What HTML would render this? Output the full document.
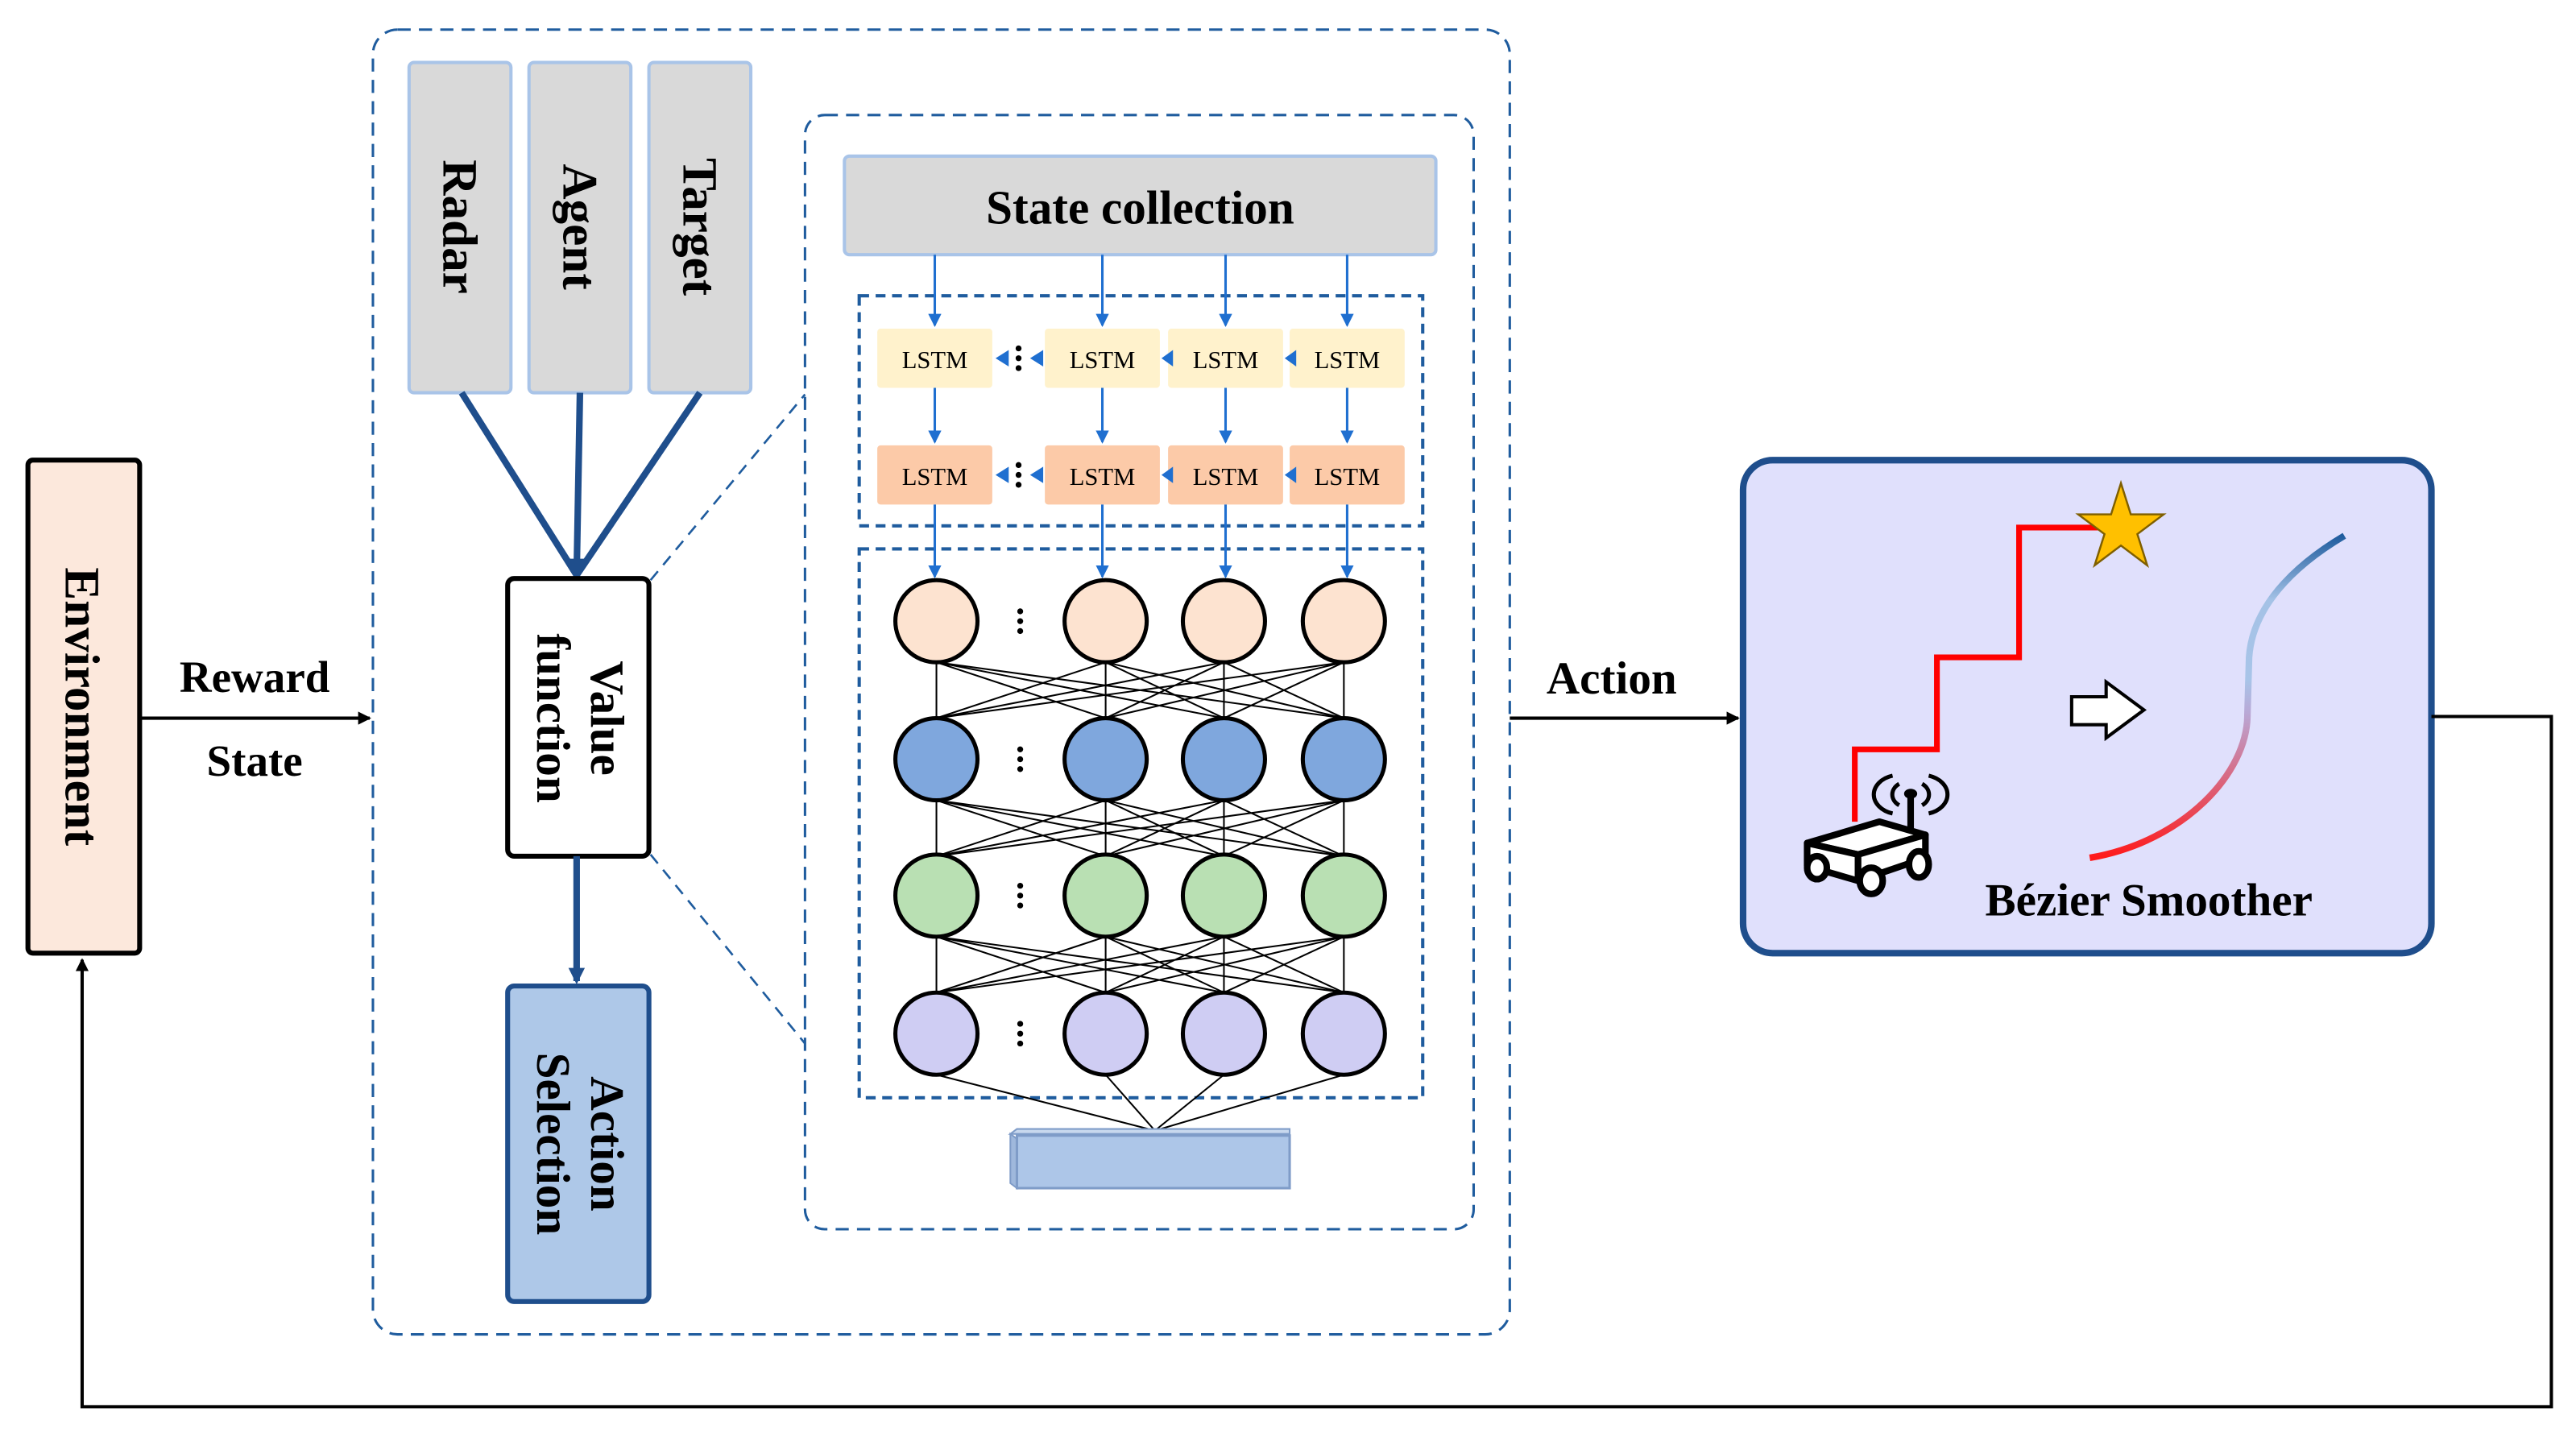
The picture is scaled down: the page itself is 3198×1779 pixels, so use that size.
<!DOCTYPE html>
<html><head><meta charset="utf-8"><style>
html,body{margin:0;padding:0;background:#fff;}
svg{display:block;}
text{font-family:"Liberation Serif",serif;font-weight:bold;fill:#000;}
</style></head><body>
<svg width="3198" height="1779" viewBox="0 0 1568 872" preserveAspectRatio="none" xmlns="http://www.w3.org/2000/svg">
<defs>
<marker id="ab" markerWidth="8" markerHeight="8" refX="7" refY="4" orient="auto" markerUnits="userSpaceOnUse"><path d="M0,0 L8,4 L0,8 z" fill="#000"/></marker>
<marker id="abl" markerWidth="10" markerHeight="10" refX="8" refY="5" orient="auto" markerUnits="userSpaceOnUse"><path d="M0,0 L10,5 L0,10 z" fill="#1f4e8c"/></marker>
<marker id="al" markerWidth="8" markerHeight="8" refX="7" refY="4" orient="auto" markerUnits="userSpaceOnUse"><path d="M0,0 L8,4 L0,8 z" fill="#1f6fd0"/></marker>
<linearGradient id="sg" x1="0" y1="1" x2="0" y2="0">
<stop offset="0" stop-color="#ff1a1a"/><stop offset="0.45" stop-color="#b9a8d6"/><stop offset="0.55" stop-color="#a8c4e8"/><stop offset="0.8" stop-color="#a4c2e6"/><stop offset="1" stop-color="#1f5c9e"/>
</linearGradient>
<path id="fc" d="M570 403L570 437M570 403L673 437M570 403L745 437M570 403L818 437M673 403L570 437M673 403L673 437M673 403L745 437M673 403L818 437M745 403L570 437M745 403L673 437M745 403L745 437M745 403L818 437M818 403L570 437M818 403L673 437M818 403L745 437M818 403L818 437" stroke="#000" stroke-width="1" fill="none"/>
</defs>

<rect x="17" y="280" width="68" height="300" rx="3" fill="#fce8dc" stroke="#000" stroke-width="3"/>
<text transform="translate(40,430) rotate(90)" text-anchor="middle" font-size="30">Environment</text>
<line x1="85" y1="437" x2="225" y2="437" stroke="#000" stroke-width="2" marker-end="url(#ab)"/>
<text x="155" y="421" text-anchor="middle" font-size="27">Reward</text>
<text x="155" y="472" text-anchor="middle" font-size="27">State</text>

<rect x="227" y="18" width="692" height="794" rx="15" fill="none" stroke="#1f5c9e" stroke-width="1.5" stroke-dasharray="8,5"/>

<rect x="249" y="38" width="62" height="201" rx="3" fill="#d9d9d9" stroke="#a9c4e8" stroke-width="2"/>
<rect x="322" y="38" width="62" height="201" rx="3" fill="#d9d9d9" stroke="#a9c4e8" stroke-width="2"/>
<rect x="395" y="38" width="62" height="201" rx="3" fill="#d9d9d9" stroke="#a9c4e8" stroke-width="2"/>
<text transform="translate(270,138) rotate(90)" text-anchor="middle" font-size="30">Radar</text>
<text transform="translate(343,138) rotate(90)" text-anchor="middle" font-size="30">Agent</text>
<text transform="translate(416,138) rotate(90)" text-anchor="middle" font-size="30">Target</text>
<line x1="281" y1="239" x2="351" y2="350" stroke="#1f4e8c" stroke-width="4"/>
<line x1="353" y1="239" x2="351" y2="350" stroke="#1f4e8c" stroke-width="4"/>
<line x1="426" y1="239" x2="351" y2="350" stroke="#1f4e8c" stroke-width="4"/>
<path d="M343 340 L351 352 L359 340 z" fill="#1f4e8c"/>

<rect x="309" y="352" width="86" height="169" rx="4" fill="#fff" stroke="#000" stroke-width="3"/>
<text transform="translate(352,437) rotate(90)" text-anchor="middle" font-size="29"><tspan x="0" dy="-8">Value</tspan><tspan x="0" dy="33">function</tspan></text>
<line x1="351" y1="521" x2="351" y2="597" stroke="#1f4e8c" stroke-width="4" marker-end="url(#abl)"/>
<rect x="309" y="600" width="86" height="192" rx="4" fill="#aec8e8" stroke="#1f4e8c" stroke-width="3"/>
<text transform="translate(352,696) rotate(90)" text-anchor="middle" font-size="29"><tspan x="0" dy="-8">Action</tspan><tspan x="0" dy="33">Selection</tspan></text>
<line x1="396" y1="353" x2="490" y2="240" stroke="#1f5c9e" stroke-width="1.3" stroke-dasharray="7,5"/>
<line x1="396" y1="520" x2="490" y2="635" stroke="#1f5c9e" stroke-width="1.3" stroke-dasharray="7,5"/>

<rect x="490" y="70" width="407" height="678" rx="12" fill="none" stroke="#1f5c9e" stroke-width="1.5" stroke-dasharray="8,5"/>
<rect x="514" y="95" width="360" height="60" rx="3" fill="#d9d9d9" stroke="#a9c4e8" stroke-width="2"/>
<text x="694" y="136" text-anchor="middle" font-size="29">State collection</text>

<rect x="523" y="180" width="343" height="140" fill="none" stroke="#1f5c9e" stroke-width="2" stroke-dasharray="6,4"/>
<rect x="523" y="334" width="343" height="334" fill="none" stroke="#1f5c9e" stroke-width="2" stroke-dasharray="6,4"/>

<g fill="#fff2cc">
<rect x="534" y="200" width="70" height="36" rx="2"/><rect x="636" y="200" width="70" height="36" rx="2"/><rect x="711" y="200" width="70" height="36" rx="2"/><rect x="785" y="200" width="70" height="36" rx="2"/>
</g>
<g fill="#fccaa8">
<rect x="534" y="271" width="70" height="36" rx="2"/><rect x="636" y="271" width="70" height="36" rx="2"/><rect x="711" y="271" width="70" height="36" rx="2"/><rect x="785" y="271" width="70" height="36" rx="2"/>
</g>
<g font-size="15" text-anchor="middle">
<text x="569" y="224" style="font-weight:normal">LSTM</text><text x="671" y="224" style="font-weight:normal">LSTM</text><text x="746" y="224" style="font-weight:normal">LSTM</text><text x="820" y="224" style="font-weight:normal">LSTM</text>
<text x="569" y="295" style="font-weight:normal">LSTM</text><text x="671" y="295" style="font-weight:normal">LSTM</text><text x="746" y="295" style="font-weight:normal">LSTM</text><text x="820" y="295" style="font-weight:normal">LSTM</text>
</g>
<g stroke="#1f6fd0" stroke-width="1.5">
<line x1="569" y1="155" x2="569" y2="198" marker-end="url(#al)"/><line x1="671" y1="155" x2="671" y2="198" marker-end="url(#al)"/><line x1="746" y1="155" x2="746" y2="198" marker-end="url(#al)"/><line x1="820" y1="155" x2="820" y2="198" marker-end="url(#al)"/>
<line x1="569" y1="236" x2="569" y2="269" marker-end="url(#al)"/><line x1="671" y1="236" x2="671" y2="269" marker-end="url(#al)"/><line x1="746" y1="236" x2="746" y2="269" marker-end="url(#al)"/><line x1="820" y1="236" x2="820" y2="269" marker-end="url(#al)"/>
<line x1="569" y1="307" x2="569" y2="351" marker-end="url(#al)"/><line x1="671" y1="307" x2="671" y2="351" marker-end="url(#al)"/><line x1="746" y1="307" x2="746" y2="351" marker-end="url(#al)"/><line x1="820" y1="307" x2="820" y2="351" marker-end="url(#al)"/>
</g>
<g fill="#1f6fd0">
<path d="M606 218 L614 213 L614 223z"/><path d="M627 218 L635 213 L635 223z"/><path d="M707 218 L714 213 L714 223z"/><path d="M782 218 L789 213 L789 223z"/>
<path d="M606 289 L614 284 L614 294z"/><path d="M627 289 L635 284 L635 294z"/><path d="M707 289 L714 284 L714 294z"/><path d="M782 289 L789 284 L789 294z"/>
</g>
<g fill="#000">
<circle cx="620" cy="212" r="1.8"/><circle cx="620" cy="218" r="1.8"/><circle cx="620" cy="224" r="1.8"/>
<circle cx="620" cy="283" r="1.8"/><circle cx="620" cy="289" r="1.8"/><circle cx="620" cy="295" r="1.8"/>
</g>

<use href="#fc"/><use href="#fc" transform="translate(0,84)"/><use href="#fc" transform="translate(0,167)"/>
<g stroke="#000" stroke-width="1"><line x1="570" y1="654" x2="703" y2="688"/><line x1="673" y1="654" x2="703" y2="688"/><line x1="745" y1="654" x2="703" y2="688"/><line x1="818" y1="654" x2="703" y2="688"/></g>
<g stroke="#000" stroke-width="2.5">
<g fill="#fde3d0"><circle cx="570" cy="378" r="25"/><circle cx="673" cy="378" r="25"/><circle cx="745" cy="378" r="25"/><circle cx="818" cy="378" r="25"/></g>
<g fill="#7fa7dd"><circle cx="570" cy="462" r="25"/><circle cx="673" cy="462" r="25"/><circle cx="745" cy="462" r="25"/><circle cx="818" cy="462" r="25"/></g>
<g fill="#b9e0b3"><circle cx="570" cy="545" r="25"/><circle cx="673" cy="545" r="25"/><circle cx="745" cy="545" r="25"/><circle cx="818" cy="545" r="25"/></g>
<g fill="#cfcdf3"><circle cx="570" cy="629" r="25"/><circle cx="673" cy="629" r="25"/><circle cx="745" cy="629" r="25"/><circle cx="818" cy="629" r="25"/></g>
</g>
<g fill="#000">
<circle cx="621" cy="372" r="1.8"/><circle cx="621" cy="378" r="1.8"/><circle cx="621" cy="384" r="1.8"/>
<circle cx="621" cy="456" r="1.8"/><circle cx="621" cy="462" r="1.8"/><circle cx="621" cy="468" r="1.8"/>
<circle cx="621" cy="539" r="1.8"/><circle cx="621" cy="545" r="1.8"/><circle cx="621" cy="551" r="1.8"/>
<circle cx="621" cy="623" r="1.8"/><circle cx="621" cy="629" r="1.8"/><circle cx="621" cy="635" r="1.8"/>
</g>
<path d="M615 690 L619 687 L785 687 L785 690 z" fill="#c8d8ee" stroke="#7f9cc8" stroke-width="1"/>
<path d="M615 690 L619 693 L619 723 L615 720 z" fill="#9fb8dc" stroke="#7f9cc8" stroke-width="1"/>
<rect x="619" y="691" width="166" height="32" fill="#adc6e8" stroke="#7f9cc8" stroke-width="1.5"/>

<line x1="919" y1="437" x2="1058" y2="437" stroke="#000" stroke-width="2" marker-end="url(#ab)"/>
<text x="981" y="422" text-anchor="middle" font-size="28">Action</text>

<rect x="1061" y="280" width="419" height="300" rx="18" fill="#e0e0fc" stroke="#1f4e8c" stroke-width="4"/>
<path d="M1129 500 L1129 456 L1179 456 L1179 400 L1229 400 L1229 321 L1290 321" fill="none" stroke="#ff0000" stroke-width="3.5"/>
<path d="M1291 294 L1297 313 L1317 313 L1301 325 L1307 344 L1291 332 L1275 344 L1281 325 L1265 313 L1285 313 z" fill="#ffc000" stroke="#7f5f00" stroke-width="1.2"/>
<path d="M1261 424 L1282 424 L1282 415 L1305 432 L1282 449 L1282 441 L1261 441 z" fill="#fff" stroke="#000" stroke-width="2"/>
<path d="M1272 522 C1330 512 1368 470 1368 435 L1369 400 C1371 370 1395 345 1427 326" fill="none" stroke="url(#sg)" stroke-width="4"/>
<g stroke="#000" stroke-width="4" stroke-linejoin="round">
<path d="M1100 513 L1144 500 L1172 508 L1131 520 z" fill="#fff"/>
<path d="M1100 513 L1100 527 L1131 536 L1131 520 z" fill="#fff"/>
<path d="M1131 520 L1172 508 L1172 522 L1131 536 z" fill="#fff"/>
<line x1="1163" y1="484" x2="1163" y2="506"/>
<ellipse cx="1106" cy="528" rx="6" ry="7" fill="#fff"/>
<ellipse cx="1139" cy="536" rx="7" ry="8" fill="#fff"/>
<ellipse cx="1168" cy="526" rx="6" ry="8" fill="#fff"/>
</g>
<ellipse cx="1163" cy="483" rx="4" ry="3" fill="#000"/>
<g fill="none" stroke="#000" stroke-width="2.5">
<path d="M1156 477 A10 8 0 0 0 1156 490"/><path d="M1170 477 A10 8 0 0 1 1170 490"/>
<path d="M1152 472 A16 12 0 0 0 1152 495"/><path d="M1174 472 A16 12 0 0 1 1174 495"/>
</g>
<text x="1308" y="557" text-anchor="middle" font-size="28">Bézier Smoother</text>

<path d="M1480 436 L1553 436 L1553 856 L50 856 L50 584" fill="none" stroke="#000" stroke-width="2" marker-end="url(#ab)"/>
</svg>
</body></html>
